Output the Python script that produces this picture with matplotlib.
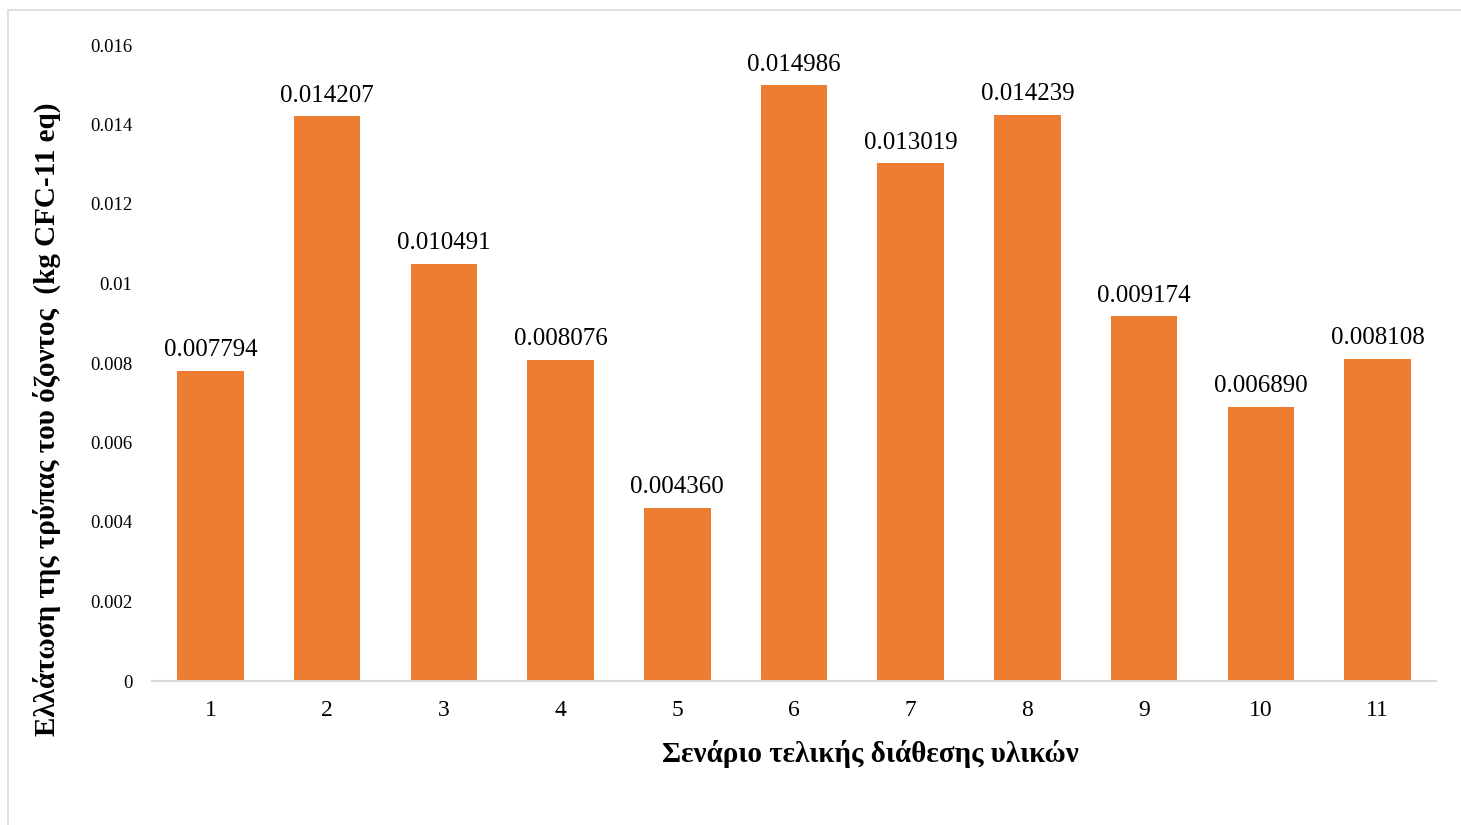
import matplotlib.pyplot as plt
from matplotlib.patches import Rectangle

# Δεδομένα
scenarios = ["1", "2", "3", "4", "5", "6", "7", "8", "9", "10", "11"]
values = [0.007794, 0.014207, 0.010491, 0.008076, 0.004360, 0.014986,
          0.013019, 0.014239, 0.009174, 0.006890, 0.008108]
yticks = [0, 0.002, 0.004, 0.006, 0.008, 0.01, 0.012, 0.014, 0.016]
ytick_labels = ["0", "0.002", "0.004", "0.006", "0.008", "0.01", "0.012", "0.014", "0.016"]

plt.rcParams['font.family'] = ['Liberation Serif', 'DejaVu Serif']

fig = plt.figure(figsize=(14.61, 8.25), dpi=100)
ax = fig.add_axes([152 / 1461, 1 - 681 / 825, (1436 - 152) / 1461, (681 - 45) / 825])

x = range(len(scenarios))
bars = ax.bar(x, values, width=0.57, color='#ED7D31')
for b, v in zip(bars, values):
    ax.annotate(f"{v:.6f}", (b.get_x() + b.get_width() / 2, v), xytext=(0, 7),
                textcoords='offset points', ha='center', va='bottom', fontsize=18)

ax.set_xlim(-0.5, len(scenarios) - 0.5)
ax.set_ylim(0, 0.016)
ax.set_xticks(list(x))
ax.set_xticklabels(scenarios, fontsize=17)
ax.set_yticks(yticks)
ax.set_yticklabels(ytick_labels, fontsize=13.5)
ax.tick_params(length=0)
ax.tick_params(axis='x', pad=14)
ax.tick_params(axis='y', pad=14)
for s in ['top', 'right', 'left']:
    ax.spines[s].set_visible(False)
ax.spines['bottom'].set_color('#D9D9D9')
ax.spines['bottom'].set_linewidth(1.5)

fig.text(870 / 1461, 1 - 754 / 825, "Σενάριο τελικής διάθεσης υλικών",
         ha='center', va='center', fontsize=21, fontweight='bold')
fig.text(47 / 1461, 1 - 419 / 825, "Ελλάτωση της τρύπας του όζοντος  (kg CFC-11 eq)",
         ha='center', va='center', rotation=90, fontsize=21, fontweight='bold')

# Περίγραμμα
fig.patches.append(Rectangle((8 / 1461, -0.01), 1.0, 1 - 10 / 825 + 0.01,
                             transform=fig.transFigure, fill=False,
                             edgecolor='#D9D9D9', linewidth=1.2))

fig.savefig("out.png", dpi=100)
